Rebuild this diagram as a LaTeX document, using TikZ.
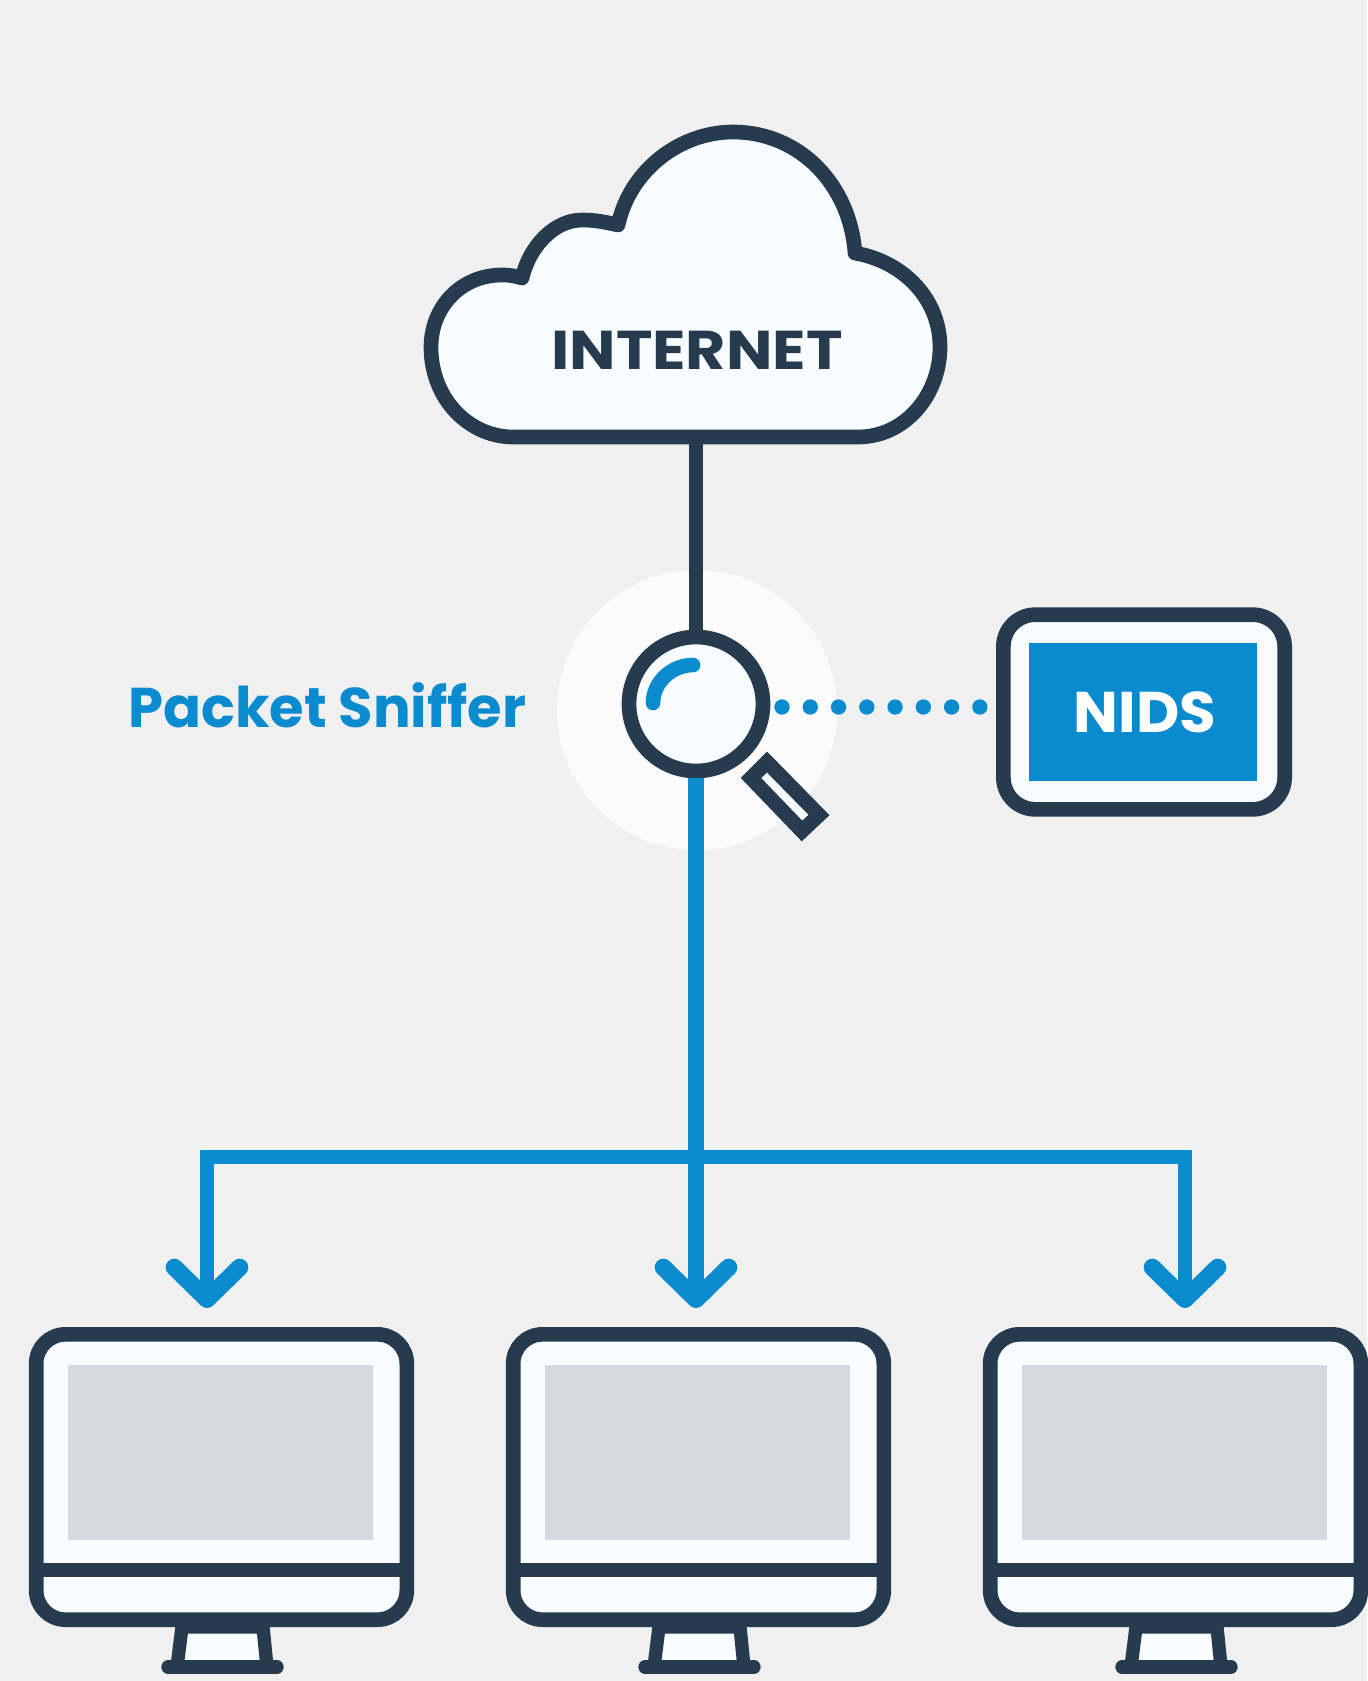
\documentclass[tikz,border=0pt]{standalone}
\usepackage{fontspec}
\setmainfont{Poppins}
\usetikzlibrary{arrows.meta}
\definecolor{bgcol}{HTML}{F0F0F0}
\definecolor{inkcol}{HTML}{263B4E}
\definecolor{sniffcol}{HTML}{0A8BD0}
\definecolor{panelcol}{HTML}{F9FCFE}
\definecolor{screencol}{HTML}{D3DBE0}
\tikzset{
    inkline/.style={draw=inkcol, line width=11pt},
    sniffline/.style={draw=sniffcol, line width=10pt},
    sniffarrow/.style={sniffline, -{Straight Barb[round,length=24pt,width=49pt,line width=13pt]}},
    monitorbox/.style={inkline, fill=panelcol, rounded corners=22pt, minimum width=278pt, minimum height=214pt, inner sep=0pt},
}
\newcommand\monitor[2]{
    \draw[inkline, line width=10pt, fill=panelcol, shift={(#1,0)}] (182,1627) -- (177,1667) -- (267,1667) -- (263,1627) -- cycle;
    \draw[inkline, line width=10pt, line cap=round, shift={(#1,0)}] (168,1667) -- (277,1667);
    \node[monitorbox] (#2) at (221.5+#1,1477) {};
    \fill[screencol, shift={(#1,0)}] (68,1365) rectangle (373,1540);
    \draw[inkline, shift={(#1,0)}] (36,1570) -- (407,1570);
}
\begin{document}
\begin{tikzpicture}[x=0.75pt,y=-0.75pt]
        \fill[bgcol] (0,0) rectangle (1367,1681);
        \useasboundingbox (0,0) rectangle (1367,1681);
        \fill[white!75!bgcol] (697,710) circle (140);
        % cloud
        \draw[inkline, fill=panelcol, line join=round] (513,437) -- (858,437)
            .. controls (905,437) and (940,395) .. (940,347)
            .. controls (940,300) and (905,262) .. (855,253)
            .. controls (850,185) and (800,132) .. (733,132)
            .. controls (680,132) and (630,170) .. (618,225)
            .. controls (605,222) and (595,220) .. (582,220)
            .. controls (555,220) and (530,245) .. (522,278)
            .. controls (515,276) and (510,275) .. (502,275)
            .. controls (460,275) and (431,308) .. (431,347)
            .. controls (431,400) and (470,437) .. (513,437) -- cycle;
        \node[text=inkcol, font=\bfseries\fontsize{41}{41}\selectfont] (internet) at (697,350) {\scalebox{1.13}[1]{INTERNET}};
        \coordinate (cloudbase) at (696,437);
        % sniffer
        \node[inkline, fill=panelcol, circle, minimum size=100.5pt, inner sep=0pt] (lens) at (696,704) {};
        \draw[inkline, line width=11pt, fill=panelcol] (767,762) -- (751,778) -- (802,831) -- (819,815) -- cycle;
        \draw[sniffline, line width=11pt, line cap=round] (653,703) .. controls (653,682) and (672,665) .. (693,665);
        \node[text=sniffcol, font=\bfseries\fontsize{42}{42}\selectfont, anchor=east] (sniffer) at (531,705) {Packet Sniffer};
        % nids
        \node[inkline, fill=panelcol, rounded corners=24pt, minimum width=211pt, minimum height=146pt, inner sep=0pt] (nidsbox) at (1144,712) {};
        \node[fill=sniffcol, text=white, minimum width=171pt, minimum height=104pt, inner sep=0pt, font=\bfseries\fontsize{43}{43}\selectfont] (nids) at (1143,712) {\hspace{3pt}\scalebox{1.04}[1]{NIDS}};
        \coordinate (dotstart) at (782,707);
        \draw[sniffline, line width=11.5pt, line cap=round, dash pattern=on 0pt off 21.2pt] (dotstart) -- (nidsbox.west |- dotstart);
        % monitors
        \monitor{0}{mona}
        \monitor{477}{monb}
        \monitor{954}{monc}
        \coordinate (tipa) at (207,1308);
        \coordinate (tipb) at (696,1308);
        \coordinate (tipc) at (1185,1308);
        \coordinate (busb) at (696,1157);
        % links
        \draw[inkline] (cloudbase) -- (lens);
        \draw[sniffarrow, line width=12.5pt] (lens) -- (tipb);
        \draw[sniffarrow] (busb) -| (tipa);
        \draw[sniffarrow] (busb) -| (tipc);
\end{tikzpicture}
\end{document}
